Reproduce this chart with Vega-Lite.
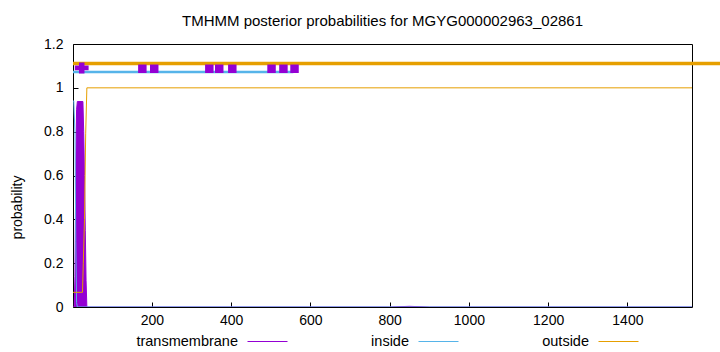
{
  "$schema": "https://vega.github.io/schema/vega-lite/v6.json",
  "width": 619,
  "height": 263,
  "autosize": {"type": "none"},
  "padding": {"left": 73, "top": 44, "right": 28, "bottom": 45},
  "background": "white",
  "config": {
    "font": "Liberation Sans",
    "view": {"stroke": "black", "strokeWidth": 1},
    "axis": {
      "grid": false,
      "domain": false,
      "ticks": true,
      "tickSize": -5,
      "tickColor": "black",
      "labelFont": "Liberation Sans",
      "labelFontSize": 14,
      "labelColor": "black",
      "titleFont": "Liberation Sans",
      "titleFontSize": 14,
      "titleFontWeight": "normal",
      "titleColor": "black"
    }
  },
  "title": {
    "text": "TMHMM posterior probabilities for MGYG000002963_02861",
    "font": "Liberation Sans",
    "fontSize": 15,
    "fontWeight": "normal",
    "color": "black",
    "anchor": "middle",
    "frame": "group",
    "baseline": "bottom",
    "offset": 15,
    "dy": 22
  },
  "datasets": {
    "post": [
      {"pos": 1, "series": "transmembrane", "p": 0},
      {"pos": 4, "series": "transmembrane", "p": 0},
      {"pos": 6, "series": "transmembrane", "p": 0.14},
      {"pos": 8, "series": "transmembrane", "p": 0.62},
      {"pos": 10, "series": "transmembrane", "p": 0.9},
      {"pos": 12, "series": "transmembrane", "p": 0.9375},
      {"pos": 26, "series": "transmembrane", "p": 0.9375},
      {"pos": 28, "series": "transmembrane", "p": 0.8},
      {"pos": 30, "series": "transmembrane", "p": 0.6},
      {"pos": 32, "series": "transmembrane", "p": 0.35},
      {"pos": 34, "series": "transmembrane", "p": 0.12},
      {"pos": 36, "series": "transmembrane", "p": 0},
      {"pos": 800, "series": "transmembrane", "p": 0},
      {"pos": 850, "series": "transmembrane", "p": 0.003},
      {"pos": 900, "series": "transmembrane", "p": 0},
      {"pos": 1563, "series": "transmembrane", "p": 0},
      {"pos": 1, "series": "inside", "p": 0.94},
      {"pos": 3, "series": "inside", "p": 0.94},
      {"pos": 6, "series": "inside", "p": 0.79},
      {"pos": 8, "series": "inside", "p": 0.3},
      {"pos": 10, "series": "inside", "p": 0.02},
      {"pos": 12, "series": "inside", "p": 0},
      {"pos": 1563, "series": "inside", "p": 0},
      {"pos": 1, "series": "outside", "p": 0.067},
      {"pos": 25, "series": "outside", "p": 0.067},
      {"pos": 27, "series": "outside", "p": 0.2},
      {"pos": 30, "series": "outside", "p": 0.4},
      {"pos": 33, "series": "outside", "p": 0.79},
      {"pos": 36, "series": "outside", "p": 1},
      {"pos": 1563, "series": "outside", "p": 1}
    ],
    "outsideTrack": [
      {"pos": 1, "p": 1.111},
      {"pos": 1640, "p": 1.111}
    ],
    "insideTrack": [
      {"pos": 1, "p": 1.072},
      {"pos": 557, "p": 1.072}
    ],
    "tmBoxes": [
      {"pos": 176, "p": 1.087},
      {"pos": 206, "p": 1.087},
      {"pos": 345, "p": 1.087},
      {"pos": 370, "p": 1.087},
      {"pos": 403, "p": 1.087},
      {"pos": 502, "p": 1.087},
      {"pos": 532, "p": 1.087},
      {"pos": 560, "p": 1.087}
    ],
    "tmCross": [
      {"pos": 23, "p": 1.091}
    ]
  },
  "encoding": {
    "x": {
      "field": "pos",
      "type": "quantitative",
      "scale": {"domain": [1, 1563], "nice": false, "zero": false},
      "axis": {"title": null, "values": [200, 400, 600, 800, 1000, 1200, 1400], "format": "d", "labelPadding": 11}
    },
    "y": {
      "field": "p",
      "type": "quantitative",
      "scale": {"domain": [0, 1.2], "nice": false},
      "axis": {
        "title": "probability",
        "values": [0, 0.2, 0.4, 0.6, 0.8, 1, 1.2],
        "format": "~g",
        "labelPadding": 15,
        "titleX": -56,
        "titleY": 163,
        "titleBaseline": "middle",
        "titleAlign": "center"
      }
    }
  },
  "layer": [
    {
      "data": {"name": "post"},
      "transform": [{"filter": "datum.series === 'transmembrane'"}],
      "mark": {"type": "area", "color": "#9400D3", "opacity": 1, "clip": true}
    },
    {
      "data": {"name": "post"},
      "mark": {"type": "line", "strokeWidth": 1, "clip": true},
      "encoding": {
        "color": {
          "field": "series",
          "type": "nominal",
          "scale": {"domain": ["transmembrane", "inside", "outside"], "range": ["#9400D3", "#56B4E9", "#E69F00"]},
          "legend": {
            "title": null,
            "orient": "none",
            "direction": "horizontal",
            "legendX": 174,
            "legendY": 277,
            "symbolType": "stroke",
            "symbolSize": 1600,
            "symbolStrokeWidth": 1,
            "labelAlign": "right",
            "labelOffset": -50,
            "labelFont": "Liberation Sans",
            "labelFontSize": 14.5,
            "labelColor": "black",
            "columnPadding": 81,
            "gridAlign": "none"
          }
        }
      }
    },
    {
      "data": {"name": "outsideTrack"},
      "mark": {"type": "line", "color": "#E69F00", "strokeWidth": 3.5, "clip": false},
      "encoding": {}
    },
    {
      "data": {"name": "insideTrack"},
      "mark": {"type": "line", "color": "#56B4E9", "strokeWidth": 2.5, "clip": false},
      "encoding": {}
    },
    {
      "data": {"name": "tmBoxes"},
      "mark": {"type": "point", "shape": "square", "filled": true, "color": "#9400D3", "opacity": 1, "size": 72}
    },
    {
      "data": {"name": "tmCross"},
      "mark": {"type": "point", "shape": "M-1,-0.35H-0.4V-0.8H0.4V-0.35H1V0.35H0.4V0.8H-0.4V0.35H-1Z", "filled": true, "color": "#9400D3", "opacity": 1, "size": 190}
    }
  ]
}
